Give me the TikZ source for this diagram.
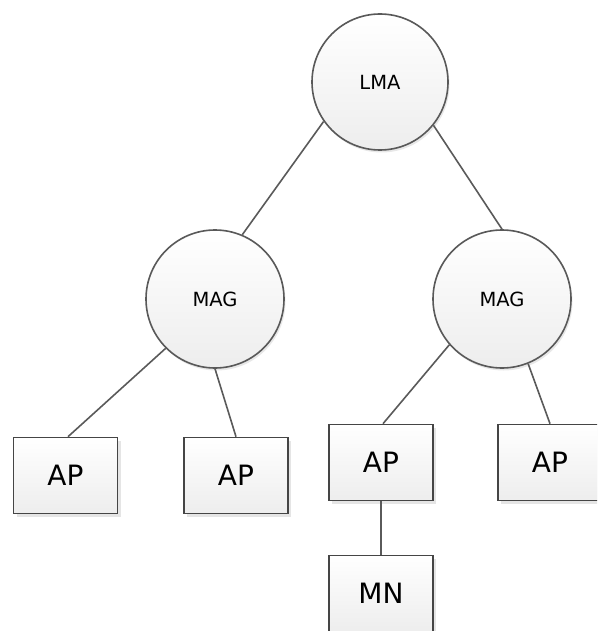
\documentclass[tikz,border=0pt]{standalone}
\usepackage{fontspec}
\setmainfont{DejaVu Sans}
\usetikzlibrary{shadows}
\definecolor{edgecol}{HTML}{5A5A5A}
\definecolor{circcol}{HTML}{595959}
\definecolor{boxcol}{HTML}{454545}
\tikzset{
  mgr/.style={circle, draw=circcol, line width=1.6pt, minimum size=#1,
    inner sep=0pt, top color=white, bottom color=gray!14,
    drop shadow={opacity=0.18, shadow xshift=1.5pt, shadow yshift=-2.5pt},
    font=\fontsize{19.5}{20}\selectfont},
  apbox/.style={rectangle, draw=boxcol, line width=1.6pt, minimum width=104pt,
    minimum height=76pt, inner sep=0pt, top color=white, bottom color=gray!14,
    drop shadow={opacity=0.2, shadow xshift=3pt, shadow yshift=-3pt},
    font=\fontsize{28}{30}\selectfont},
  link/.style={draw=edgecol, line width=1.6pt}
}
\begin{document}
\begin{tikzpicture}[x=1pt, y=-1pt]
\clip (0,0) rectangle (597,631);
\fill[white] (0,0) rectangle (597,631);
\node[mgr=136pt] (lma) at (380,82) {LMA};
\node[mgr=138pt] (magL) at (215,299) {MAG};
\node[mgr=138pt] (magR) at (502,299) {MAG};
\node[apbox] (ap1) at (65.5,475.5) {AP};
\node[apbox] (ap2) at (236,475.5) {AP};
\node[apbox] (ap3) at (381,462.5) {AP};
\node[apbox] (ap4) at (550,462.5) {AP};
\node[apbox] (mn) at (381,593.5) {MN};
\draw[link] (lma.215) -- (magL.67);
\draw[link] (lma.321) -- (magR.90);
\draw[link] (magL.225) -- ([xshift=2.5pt]ap1.north);
\draw[link] (magL.270) -- (ap2.north);
\draw[link] (magR.221) -- ([xshift=2pt]ap3.north);
\draw[link] (magR.292) -- (ap4.north);
\draw[link] (ap3.south) -- (mn.north);
\end{tikzpicture}
\end{document}
